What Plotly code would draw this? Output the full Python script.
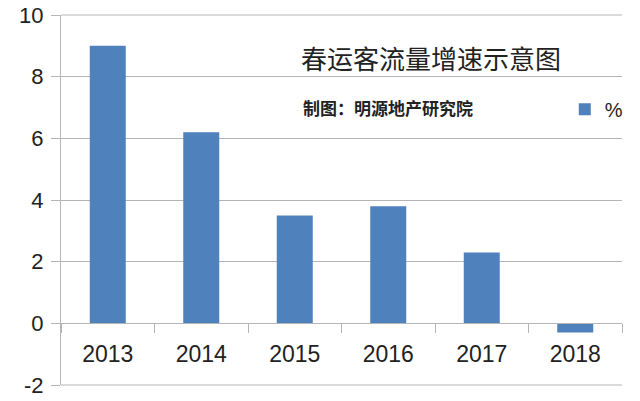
import plotly.graph_objects as go

years = ["2013", "2014", "2015", "2016", "2017", "2018"]
growth = [9.0, 6.2, 3.5, 3.8, 2.3, -0.3]
y_ticks = [-2, 0, 2, 4, 6, 8, 10]
y_tick_labels = ["-2", "0", "2", "4", "6", "8", "10"]
series_name = "%"
title_text = "春运客流量增速示意图"
subtitle_text = "制图：明源地产研究院"

grid = "#b5b5b5"
num_font = "Liberation Sans Narrow, Arial Narrow, Liberation Sans, sans-serif"

fig = go.Figure()
fig.add_trace(go.Bar(x=years, y=growth, name=series_name,
                     marker=dict(color="#4F81BD", line=dict(width=0)),
                     showlegend=True))

fig.update_layout(
    width=640, height=401,
    margin=dict(l=61, r=18, t=15, b=16, autoexpand=False),
    paper_bgcolor="white", plot_bgcolor="white",
    bargap=0.615,
    font=dict(family=num_font, color="#222222"),
    showlegend=True,
    legend=dict(x=0.898, y=0.745, xanchor="left", yanchor="middle",
                bgcolor="rgba(0,0,0,0)", font=dict(size=20, family=num_font),
                itemwidth=30, tracegroupgap=0),
    xaxis=dict(type="category", anchor="free", position=2/12, automargin=False,
               showline=True, linecolor=grid, linewidth=1,
               ticks="outside", ticklen=9, tickcolor=grid, tickson="boundaries",
               tickfont=dict(size=23, family=num_font, color="#222222"),
               ticklabelstandoff=10, showgrid=False),
    yaxis=dict(range=[-2, 10], tickvals=y_ticks, ticktext=y_tick_labels,
               showgrid=True, gridcolor=grid,
               gridwidth=1, zeroline=False, showline=True, linecolor=grid,
               automargin=False,
               ticks="outside", ticklen=9, tickcolor=grid,
               tickfont=dict(size=22, family=num_font, color="#222222"),
               ticklabelstandoff=3),
    shapes=[
        dict(type="line", xref="paper", yref="paper", x0=0, x1=1, y0=1, y1=1,
             line=dict(color=grid, width=1), layer="below"),
        dict(type="line", xref="paper", yref="paper", x0=0, x1=1, y0=0, y1=0,
             line=dict(color=grid, width=1), layer="below"),
    ],
    annotations=[
        dict(text=title_text, xref="paper", yref="paper", x=0.425, y=0.886,
             xanchor="left", yanchor="middle", showarrow=False,
             font=dict(size=26, family="Noto Sans CJK SC", color="#222222")),
        dict(text="<b>" + subtitle_text + "</b>", xref="paper", yref="paper",
             x=0.427, y=0.75, xanchor="left", yanchor="middle", showarrow=False,
             font=dict(size=17, family="Noto Sans CJK SC", color="#222222")),
    ],
)

fig.write_html("out.html", config={"displayModeBar": False},
               post_script="document.body.style.margin='0';document.body.style.overflow='hidden';")
